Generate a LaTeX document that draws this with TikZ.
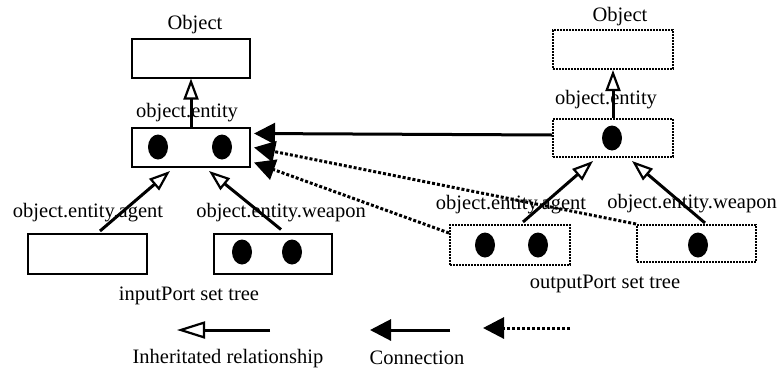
\documentclass[tikz,border=0pt]{standalone}
\usepackage{fontspec}
\setmainfont{Liberation Serif}
\usetikzlibrary{arrows.meta,calc,shapes.geometric}
\begin{document}
\begin{tikzpicture}[x=1pt,y=-1pt,
  lbl/.style={font=\fontsize{20.5}{24}\selectfont, inner sep=0pt},
  box/.style={draw, line width=2pt, minimum width=118pt, minimum height=39pt, inner sep=0pt},
  dbox/.style={box, dash pattern=on 1.6pt off 1.4pt},
  dot/.style={ellipse, fill=black, minimum width=20pt, minimum height=25pt, inner sep=0pt},
  inh/.style={line width=3pt, -{Triangle[open, length=21pt, width=15pt, line width=2.2pt]}},
  inhbig/.style={line width=3pt, -{Triangle[open, length=28pt, width=17pt, line width=2.2pt]}},
  con/.style={line width=3pt, -{Triangle[length=21pt, width=21pt]}},
  dcon/.style={con, dash pattern=on 3pt off 2pt},
]
\useasboundingbox (0,0) rectangle (778,370);

% input port set tree
\node[box] (lobj) at (191,58) {};
\node[box] (lent) at (191,147.5) {};
\node[box, minimum width=119pt, minimum height=40pt] (lagent) at (87.5,254) {};
\node[box, minimum height=40pt] (lweap) at (273,253.5) {};
\node[dot] (le1) at (158,147) {};
\node[dot] (le2) at (222,147) {};
\node[dot] (lw1) at (242,252) {};
\node[dot] (lw2) at (292,252) {};
\node[lbl] (lobjl) at (195,25) {Object};
\node[lbl] (lentl) at (187,113) {object.entity};
\node[lbl] (lagentl) at (88,213) {object.entity.agent};
\node[lbl] (lweapl) at (281,213) {object.entity.weapon};
\node[lbl] (ltree) at (189,296) {inputPort set tree};

\draw[inh] (lent.north) -- (lobj.south);
\draw[inh] ($(lagent.north)+(12.5,-2)$) -- ($(lent.south)+(-21,3)$);
\draw[inh] ($(lweap.north)+(8,-3)$) -- ($(lent.south)+(18,3)$);

% output port set tree
\node[dbox, minimum width=120pt] (robj) at (613,49.5) {};
\node[dbox, minimum width=120pt, minimum height=38pt] (rent) at (613,138) {};
\node[dbox, minimum width=120pt, minimum height=40pt] (ragent) at (510,245) {};
\node[dbox, minimum width=119pt, minimum height=37pt] (rweap) at (696.5,243.5) {};
\node[dot] (re1) at (612,138) {};
\node[dot] (ra1) at (485,245) {};
\node[dot] (ra2) at (538,245) {};
\node[dot] (rw1) at (698,245) {};
\node[lbl] (robjl) at (620,17) {Object};
\node[lbl] (rentl) at (606,100) {object.entity};
\node[lbl] (ragentl) at (511,205) {object.entity.agent};
\node[lbl] (rweapl) at (692,204) {object.entity.weapon};
\node[lbl] (rtree) at (605,284) {outputPort set tree};

\draw[inh] (rent.north) -- (robj.south);
\draw[inh] ($(ragent.north)+(13,-2)$) -- ($(rent.south)+(-20,3)$);
\draw[inh] ($(rweap.north)+(8.5,-1)$) -- ($(rent.south)+(19,3)$);

% connections between the trees
\draw[con] ($(rent.west)+(0,-3)$) -- ($(lent.east)+(3,-14)$);
\draw[dcon] (rweap.north west) -- ($(lent.east)+(3,0)$);
\draw[dcon] ($(ragent.west)+(0,-12)$) -- ($(lent.east)+(3,15)$);

% legend
\coordinate (i1) at (270,330);
\coordinate (i2) at (177,330);
\draw[inhbig] (i1) -- (i2);
\node[lbl] (inhl) at (228,359) {Inheritated relationship};
\coordinate (c1) at (450,330);
\coordinate (c2) at (370,330);
\draw[con] (c1) -- (c2);
\coordinate (d1) at (570,328);
\coordinate (d2) at (483,328);
\draw[dcon] (d1) -- (d2);
\node[lbl] (conl) at (417,358) {Connection};
\end{tikzpicture}
\end{document}
